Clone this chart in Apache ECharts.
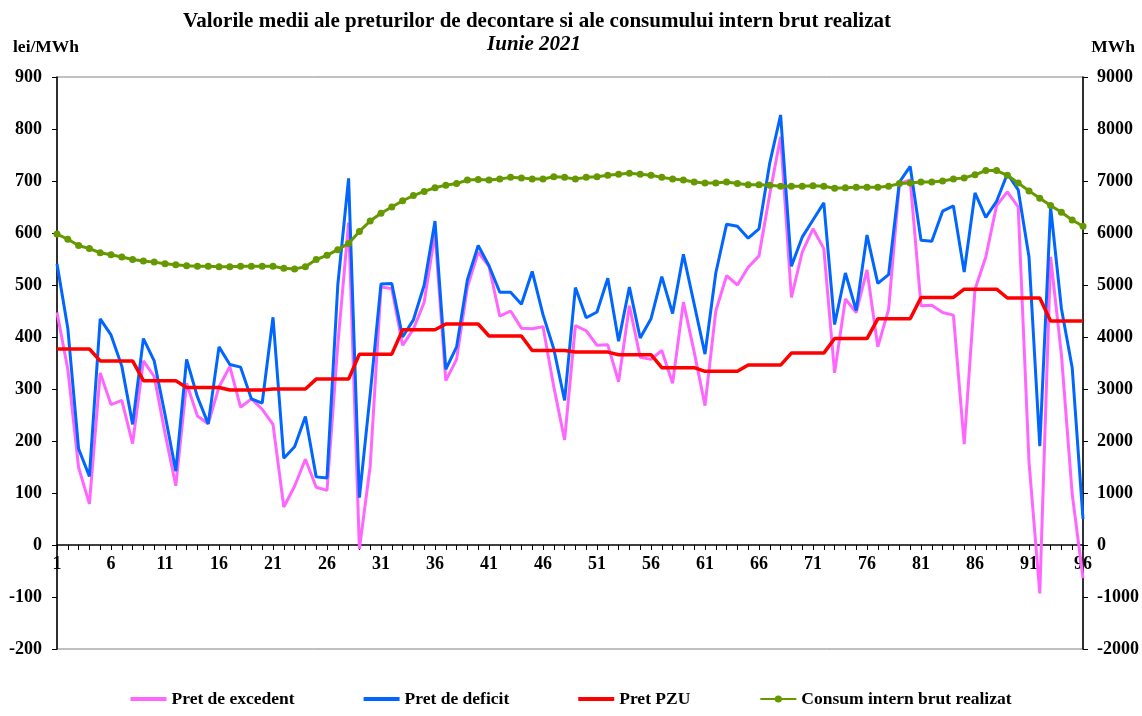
<!DOCTYPE html>
<html>
<head>
<meta charset="utf-8">
<script src="https://cdn.jsdelivr.net/npm/echarts@6/dist/echarts.min.js"></script>
<style>html,body{margin:0;padding:0;background:#fff;}#c{width:1142px;height:716px;}</style>
</head>
<body>
<div id="c"></div>
<script>
var categories = [];
for (var i = 1; i <= 96; i++) categories.push(String(i));

var pretExcedent = [447,338,149,79,331,270,278,195,354,324,215,114,311,248,233,304,
343,265,281,261,232,73,113,165,111,105,385,620,-8,152,496,493,
384,415,467,600,316,357,496,563,536,440,450,417,416,420,304,202,
422,412,384,385,314,460,361,357,374,311,467,371,268,450,518,500,
534,556,675,785,476,563,608,570,331,473,447,529,381,453,695,702,
460,461,447,442,194,492,554,653,679,650,160,-93,554,366,98,-64];

var pretDeficit = [541,417,185,132,435,404,344,232,397,354,251,142,357,285,233,381,
347,342,281,273,438,167,189,247,131,129,500,705,91,290,502,503,
400,433,500,623,338,381,510,576,537,486,486,463,526,443,377,278,
495,437,448,513,392,496,398,435,516,445,559,463,367,523,617,613,
590,608,735,827,536,592,625,658,424,523,451,596,503,520,698,728,
586,584,642,652,525,677,630,661,714,683,554,190,650,455,341,50];

var pretPZU = [377,377,377,377,354,354,354,354,316,316,316,316,303,303,303,303,
298,298,298,298,300,300,300,300,319,319,319,319,367,367,367,367,
414,414,414,414,425,425,425,425,402,402,402,402,374,374,374,374,
371,371,371,371,366,366,366,366,341,341,341,341,334,334,334,334,
346,346,346,346,369,369,369,369,397,397,397,397,435,435,435,435,
476,476,476,476,492,492,492,492,475,475,475,475,431,431,431,431];

var consum = [5980,5880,5760,5700,5620,5580,5540,5490,5460,5440,5410,5390,5370,5360,5360,5350,
5350,5360,5360,5360,5360,5320,5310,5350,5490,5570,5680,5800,6030,6230,6380,6500,
6620,6720,6800,6870,6920,6950,7020,7030,7020,7040,7070,7060,7040,7040,7080,7070,
7040,7070,7080,7110,7130,7150,7130,7110,7070,7040,7020,6980,6960,6960,6980,6950,
6930,6930,6920,6900,6900,6900,6910,6900,6860,6870,6880,6880,6880,6900,6950,6960,
6980,6980,7000,7040,7060,7120,7200,7200,7110,6960,6810,6670,6530,6400,6250,6130];

var seriesNames = ['Pret de excedent','Pret de deficit','Pret PZU','Consum intern brut realizat'];
var seriesColors = ['#FF66FF','#0066FF','#FF0000','#669900'];
var titleText = 'Valorile medii ale preturilor de decontare si ale consumului intern brut realizat';
var subTitleText = 'Iunie 2021';
var leftUnit = 'lei/MWh';
var rightUnit = 'MWh';

var FONT = "'Liberation Serif','Times New Roman',serif";
var lbl = {fontFamily: FONT, fontWeight: 'bold', fontSize: 18, color: '#000',
           formatter: function (v) { return String(v); }};
var LINE_ICON = 'path://M0,0L36,0L36,4L0,4Z';

var chart = echarts.init(document.getElementById('c'), null, {renderer: 'canvas'});
chart.setOption({
  animation: false,
  backgroundColor: '#fff',
  title: [
    {text: titleText, left: 537, top: 11, textAlign: 'center', padding: 0,
     textStyle: {fontFamily: FONT, fontWeight: 'bold', fontSize: 21, color: '#000'}},
    {text: subTitleText, left: 534, top: 34, textAlign: 'center', padding: 0,
     textStyle: {fontFamily: FONT, fontWeight: 'bold', fontStyle: 'italic', fontSize: 21, color: '#000'}},
    {text: leftUnit, left: 13, top: 38, padding: 0,
     textStyle: {fontFamily: FONT, fontWeight: 'bold', fontSize: 17.5, color: '#000'}},
    {text: rightUnit, right: 7, top: 38, padding: 0,
     textStyle: {fontFamily: FONT, fontWeight: 'bold', fontSize: 17.5, color: '#000'}}
  ],
  grid: {left: 57, right: 59, top: 77, bottom: 67, show: true, borderColor: '#808080', borderWidth: 1},
  legend: {
    bottom: 3, left: 'center', itemWidth: 36, itemHeight: 9, itemGap: 69,
    textStyle: {fontFamily: FONT, fontWeight: 'bold', fontSize: 17.5, color: '#000'},
    data: [
      {name: seriesNames[0], icon: LINE_ICON},
      {name: seriesNames[1], icon: LINE_ICON},
      {name: seriesNames[2], icon: LINE_ICON},
      {name: seriesNames[3]}
    ]
  },
  xAxis: {
    type: 'category', data: categories, boundaryGap: false, position: 'bottom', offset: -104,
    axisLine: {onZero: false, lineStyle: {color: '#000', width: 1.5}},
    axisTick: {show: true, interval: 0, length: 5, lineStyle: {color: '#000', width: 1}},
    axisLabel: {interval: 4, margin: 10, fontFamily: FONT, fontWeight: 'bold', fontSize: 18, color: '#000'},
    splitLine: {show: false}
  },
  yAxis: [
    {type: 'value', min: -200, max: 900, interval: 100, position: 'left',
     axisLine: {show: true, lineStyle: {color: '#000', width: 1.5}},
     axisTick: {show: true, length: 5, lineStyle: {color: '#000'}},
     axisLabel: Object.assign({margin: 15}, lbl),
     splitLine: {show: false}},
    {type: 'value', min: -2000, max: 9000, interval: 1000, position: 'right',
     axisLine: {show: true, lineStyle: {color: '#000', width: 1.5}},
     axisTick: {show: true, length: 5, lineStyle: {color: '#000'}},
     axisLabel: Object.assign({margin: 14}, lbl),
     splitLine: {show: false}}
  ],
  series: [
    {name: seriesNames[0], type: 'line', data: pretExcedent, symbol: 'none', yAxisIndex: 0,
     lineStyle: {color: seriesColors[0], width: 3}, itemStyle: {color: seriesColors[0]}},
    {name: seriesNames[1], type: 'line', data: pretDeficit, symbol: 'none', yAxisIndex: 0,
     lineStyle: {color: seriesColors[1], width: 3}, itemStyle: {color: seriesColors[1]}},
    {name: seriesNames[2], type: 'line', data: pretPZU, symbol: 'none', yAxisIndex: 0,
     lineStyle: {color: seriesColors[2], width: 3.5}, itemStyle: {color: seriesColors[2]}},
    {name: seriesNames[3], type: 'line', data: consum, symbol: 'circle', symbolSize: 7, yAxisIndex: 1,
     lineStyle: {color: seriesColors[3], width: 3}, itemStyle: {color: seriesColors[3]}}
  ]
});
</script>
</body>
</html>
